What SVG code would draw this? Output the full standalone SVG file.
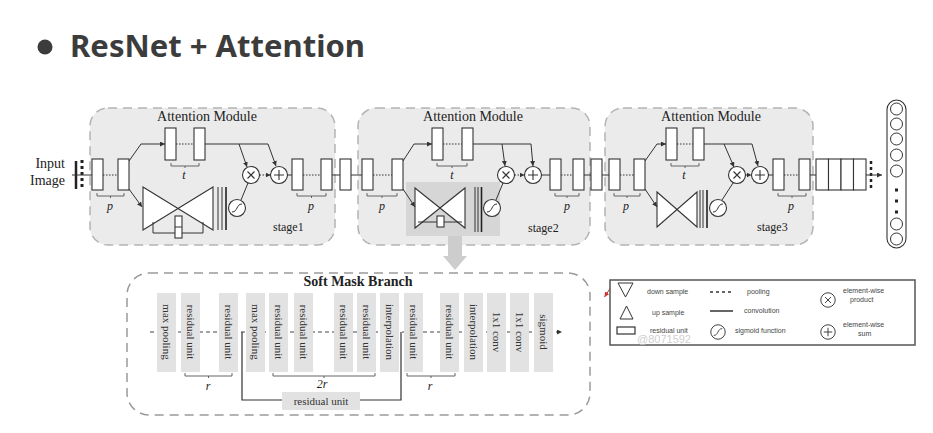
<svg xmlns="http://www.w3.org/2000/svg" width="933" height="433" viewBox="0 0 933 433">
<defs>
<style>
.mod{fill:#ebebeb;stroke:#b4b4b4;stroke-width:1.5;stroke-dasharray:9 6}
.blk{fill:#fff;stroke:#333;stroke-width:1.1}
.ln{fill:none;stroke:#333;stroke-width:1}
.dl{fill:none;stroke:#333;stroke-width:1;stroke-dasharray:1.5 1.5}
.br{fill:none;stroke:#555;stroke-width:0.9}
.sf{font-family:"Liberation Serif","DejaVu Serif",serif;fill:#222}
.am{font-size:14px}
.it{font-style:italic;font-size:12px}
.st{font-size:12px}
.bar{fill:#e2e2e2}
.bt{font-family:"Liberation Serif","DejaVu Serif",serif;font-size:11px;fill:#333}
.lg{font-family:"Liberation Sans",Arial,sans-serif;font-size:7px;fill:#444}
.bow{fill:#fff;stroke:#333;stroke-width:1.1}
.thick{stroke:#222;stroke-width:1.6}
</style>
<marker id="ah" viewBox="0 0 6 6" refX="6" refY="3" markerWidth="5" markerHeight="5" orient="auto"><path d="M0,0 L6,3 L0,6 z" fill="#333"/></marker>
<marker id="ahr" viewBox="0 0 6 6" refX="6" refY="3" markerWidth="5" markerHeight="5" orient="auto"><path d="M0,0 L6,3 L0,6 z" fill="#c33"/></marker>
<g id="otimes"><circle r="8.5" fill="#fff" stroke="#333" stroke-width="1.1"/><path d="M-3.5,-3.5 L3.5,3.5 M-3.5,3.5 L3.5,-3.5" stroke="#333" stroke-width="1.1"/></g>
<g id="oplus"><circle r="8.5" fill="#fff" stroke="#333" stroke-width="1.1"/><path d="M-5,0 H5 M0,-5 V5" stroke="#333" stroke-width="1.1"/></g>
<g id="sig"><circle r="8.5" fill="#fff" stroke="#333" stroke-width="1.1"/><path d="M-5,4 C1,4 -1,-4 5,-4" fill="none" stroke="#333" stroke-width="1"/></g>
</defs>
<rect width="933" height="433" fill="#fff"/>

<g id="title">
<circle cx="45" cy="47" r="7.5" fill="#3c3c3c"/>
<text x="70" y="57" font-family="'Noto Sans','Open Sans',sans-serif" font-weight="bold" font-size="30" fill="#3c3c3c" textLength="295" lengthAdjust="spacingAndGlyphs">ResNet + Attention</text>
</g>

<g id="module1">
<rect class="mod" x="90" y="108" width="245" height="137" rx="18"/>
<text class="sf am" x="207" y="121" text-anchor="middle">Attention Module</text>
<rect class="blk" x="92" y="159" width="11" height="31"/>
<rect class="blk" x="118" y="159" width="11" height="31"/>
<rect class="blk" x="165" y="128" width="11" height="32"/>
<rect class="blk" x="194" y="128" width="11" height="32"/>
<polygon class="bow" points="143,187 213,230 213,187 143,230"/>
<path class="ln" d="M153,222 V233 H203 V222"/>
<rect class="blk" x="175" y="216" width="7" height="22"/>
<path class="ln" d="M175,227 H182"/>
<path class="ln" d="M218,187 V230 M222,187 V230"/><path class="thick" d="M226,187 V230"/>
<use href="#sig" x="237" y="208"/>
<use href="#otimes" x="251" y="175"/>
<use href="#oplus" x="279" y="175"/>
<rect class="blk" x="292" y="159" width="11" height="31"/>
<rect class="blk" x="321" y="159" width="11" height="31"/>
<text class="sf st" x="273" y="231">stage1</text>
<path class="br" d="M97,193 V196 H124 V193 M110.5,196 V198"/>
<text class="sf it" x="110" y="210" text-anchor="middle">p</text>
<path class="br" d="M171,163 V166 H199 V163 M185,166 V168"/>
<text class="sf it" x="184" y="179" text-anchor="middle">t</text>
<path class="br" d="M297,193 V196 H326 V193 M311.5,196 V198"/>
<text class="sf it" x="311" y="210" text-anchor="middle">p</text>
</g>

<g id="module2">
<rect class="mod" x="358" y="108" width="232" height="137" rx="18"/>
<rect x="406" y="182" width="94" height="54" fill="#d6d6d6"/>
<path d="M448,236 H462 V256 H467 L455,270 L443,256 H448 Z" fill="#cdcdcd"/>
<text class="sf am" x="473" y="121" text-anchor="middle">Attention Module</text>
<rect class="blk" x="362" y="159" width="11" height="31"/>
<rect class="blk" x="392" y="159" width="11" height="31"/>
<rect class="blk" x="432" y="128" width="11" height="32"/>
<rect class="blk" x="462" y="128" width="11" height="32"/>
<polygon class="bow" points="415,188 465,228 465,188 415,228"/>
<path class="ln" d="M418,222 H462"/>
<rect class="blk" x="437" y="216" width="7" height="11"/>
<path class="ln" d="M475,187 V232 M478,187 V232"/><path class="thick" d="M481.5,187 V232"/>
<use href="#sig" x="492" y="208"/>
<use href="#otimes" x="506" y="175"/>
<use href="#oplus" x="533" y="175"/>
<rect class="blk" x="550" y="159" width="11" height="31"/>
<rect class="blk" x="573" y="159" width="11" height="31"/>
<text class="sf st" x="528" y="232">stage2</text>
<path class="br" d="M367,193 V196 H397 V193 M382,196 V198"/>
<text class="sf it" x="382" y="210" text-anchor="middle">p</text>
<path class="br" d="M437,163 V166 H467 V163 M452,166 V168"/>
<text class="sf it" x="452" y="179" text-anchor="middle">t</text>
<path class="br" d="M555,193 V196 H579 V193 M567,196 V198"/>
<text class="sf it" x="567" y="210" text-anchor="middle">p</text>
</g>

<g id="module3">
<rect class="mod" x="605" y="108" width="208" height="137" rx="18"/>
<text class="sf am" x="711" y="121" text-anchor="middle">Attention Module</text>
<rect class="blk" x="609" y="159" width="11" height="31"/>
<rect class="blk" x="634" y="159" width="11" height="31"/>
<rect class="blk" x="666" y="128" width="11" height="32"/>
<rect class="blk" x="693" y="128" width="11" height="32"/>
<polygon class="bow" points="657,192 697,227 697,192 657,227"/>
<path class="ln" d="M700,190 V228 M703,190 V228"/><path class="thick" d="M707,190 V228"/>
<use href="#sig" x="718" y="208"/>
<use href="#otimes" x="737" y="175"/>
<use href="#oplus" x="760" y="175"/>
<rect class="blk" x="773" y="159" width="11" height="31"/>
<rect class="blk" x="799" y="159" width="11" height="31"/>
<text class="sf st" x="757" y="231">stage3</text>
<path class="br" d="M614,193 V196 H640 V193 M627,196 V198"/>
<text class="sf it" x="626" y="210" text-anchor="middle">p</text>
<path class="br" d="M671,163 V166 H699 V163 M685,166 V168"/>
<text class="sf it" x="684" y="179" text-anchor="middle">t</text>
<path class="br" d="M778,193 V196 H806 V193 M792,196 V198"/>
<text class="sf it" x="791" y="210" text-anchor="middle">p</text>
</g>

<g id="input">
<text class="sf" font-size="14" x="65" y="168" text-anchor="end">Input</text>
<text class="sf" font-size="14" x="65" y="185" text-anchor="end">Image</text>
<path d="M76,161 V189" stroke="#222" stroke-width="2.5"/>
<path d="M82,160 V190" stroke="#222" stroke-width="3" stroke-dasharray="3 3"/>
</g>

<g id="between">
<rect class="blk" x="340" y="159" width="11" height="31"/>
<rect class="blk" x="591" y="159" width="11" height="31"/>
<rect class="blk" x="816" y="159" width="12.5" height="31"/>
<rect class="blk" x="828.5" y="159" width="12.5" height="31"/>
<rect class="blk" x="841" y="159" width="12.5" height="31"/>
<rect class="blk" x="853.5" y="159" width="12.5" height="31"/>
<path d="M871,161 V190" stroke="#222" stroke-width="2.5" stroke-dasharray="3 3"/>
</g>

<g id="output">
<rect x="887" y="100" width="19" height="148" rx="9.5" fill="#fff" stroke="#333" stroke-width="1.1"/>
<g fill="#fff" stroke="#333" stroke-width="1">
<circle cx="896.5" cy="109" r="6"/><circle cx="896.5" cy="124" r="6"/><circle cx="896.5" cy="139" r="6"/><circle cx="896.5" cy="155" r="6"/><circle cx="896.5" cy="171" r="6"/><circle cx="896.5" cy="224" r="6"/><circle cx="896.5" cy="239" r="6"/>
</g>
<g fill="#222"><rect x="895" y="188.5" width="3" height="3"/><rect x="895" y="199.5" width="3" height="3"/><rect x="895" y="210.5" width="3" height="3"/></g>
</g>

<g id="connectors">
<path class="ln" d="M72,175 H92"/>
<path class="dl" d="M103,175 H118"/>
<path class="ln" d="M129,161 L141,144 H165" marker-end="url(#ah)"/>
<path class="dl" d="M176,144 H194"/>
<path class="ln" d="M205,144 H268 L276,166" marker-end="url(#ah)"/>
<path class="ln" d="M239,144 L247,167" marker-end="url(#ah)"/>
<path class="ln" d="M129,189 L142,207" marker-end="url(#ah)"/>
<path class="ln" d="M241,200 L248,183"/>
<path class="dl" d="M259.5,175 H270.5" marker-end="url(#ah)"/>
<path class="ln" d="M287.5,175 H292"/>
<path class="dl" d="M303,175 H321"/>
<path class="ln" d="M332,175 H340 M351,175 H362"/>
<path class="dl" d="M373,175 H392"/>
<path class="ln" d="M403,161 L414,144 H432" marker-end="url(#ah)"/>
<path class="dl" d="M443,144 H462"/>
<path class="ln" d="M473,144 H531 L533,166" marker-end="url(#ah)"/>
<path class="ln" d="M502,144 L505,166" marker-end="url(#ah)"/>
<path class="ln" d="M403,189 L415,207" marker-end="url(#ah)"/>
<path class="ln" d="M496,200 L503,183"/>
<path class="dl" d="M514.5,175 H524.5" marker-end="url(#ah)"/>
<path class="ln" d="M541.5,175 H550"/>
<path class="dl" d="M561,175 H573"/>
<path class="ln" d="M584,175 H591 M602,175 H609"/>
<path class="dl" d="M620,175 H634"/>
<path class="ln" d="M645,161 L657,144 H666" marker-end="url(#ah)"/>
<path class="dl" d="M677,144 H693"/>
<path class="ln" d="M704,144 H752 L758,166" marker-end="url(#ah)"/>
<path class="ln" d="M724,144 L734,167" marker-end="url(#ah)"/>
<path class="ln" d="M645,189 L657,207" marker-end="url(#ah)"/>
<path class="ln" d="M722,200 L733,183"/>
<path class="dl" d="M745.5,175 H751.5" marker-end="url(#ah)"/>
<path class="ln" d="M768.5,175 H773"/>
<path class="dl" d="M784,175 H799"/>
<path class="ln" d="M810,175 H816"/>
<path class="ln" d="M866,175 H882" marker-end="url(#ah)"/>
</g>

<g id="softmask">
<rect x="127" y="273" width="463" height="142" rx="22" fill="none" stroke="#9a9a9a" stroke-width="1.5" stroke-dasharray="9 6"/>
<text class="sf" x="358" y="286" text-anchor="middle" font-size="14" font-weight="bold">Soft Mask Branch</text>
<path d="M150,332 H562" fill="none" stroke="#444" stroke-width="1" stroke-dasharray="4 3" marker-end="url(#ah)"/>
<g class="bar">
<rect x="157" y="293" width="19" height="79"/><rect x="181" y="293" width="19" height="79"/><rect x="219" y="293" width="19" height="79"/><rect x="246" y="293" width="19" height="79"/><rect x="269" y="293" width="19" height="79"/><rect x="294" y="293" width="19" height="79"/><rect x="334" y="293" width="19" height="79"/><rect x="357" y="293" width="19" height="79"/><rect x="380" y="293" width="19" height="79"/><rect x="404" y="293" width="19" height="79"/><rect x="440" y="293" width="19" height="79"/><rect x="464" y="293" width="19" height="79"/><rect x="487" y="293" width="19" height="79"/><rect x="510" y="293" width="19" height="79"/><rect x="534" y="293" width="19" height="79"/>
</g>
<g class="bt" text-anchor="middle">
<text transform="translate(166.5,332) rotate(90)" dy="0.35em">max pooling</text>
<text transform="translate(190.5,332) rotate(90)" dy="0.35em">residual unit</text>
<text transform="translate(228.5,332) rotate(90)" dy="0.35em">residual unit</text>
<text transform="translate(255.5,332) rotate(90)" dy="0.35em">max pooling</text>
<text transform="translate(278.5,332) rotate(90)" dy="0.35em">residual unit</text>
<text transform="translate(303.5,332) rotate(90)" dy="0.35em">residual unit</text>
<text transform="translate(343.5,332) rotate(90)" dy="0.35em">residual unit</text>
<text transform="translate(366.5,332) rotate(90)" dy="0.35em">residual unit</text>
<text transform="translate(389.5,332) rotate(90)" dy="0.35em">interpolation</text>
<text transform="translate(413.5,332) rotate(90)" dy="0.35em">residual unit</text>
<text transform="translate(449.5,332) rotate(90)" dy="0.35em">residual unit</text>
<text transform="translate(473.5,332) rotate(90)" dy="0.35em">interpolation</text>
<text transform="translate(496.5,332) rotate(90)" dy="0.35em">1x1 conv</text>
<text transform="translate(519.5,332) rotate(90)" dy="0.35em">1x1 conv</text>
<text transform="translate(543.5,332) rotate(90)" dy="0.35em">sigmoid</text>
</g>
<path d="M242,332 V400 H282 M360,400 H401 V332" fill="none" stroke="#333" stroke-width="1.2"/>
<rect class="bar" x="282" y="392" width="78" height="18"/>
<text class="bt" x="321" y="405" text-anchor="middle">residual unit</text>
<path class="br" d="M185,373 V376 H232 V373 M208.5,376 V378"/>
<text class="sf it" x="208" y="390" text-anchor="middle">r</text>
<path class="br" d="M273,373 V376 H375 V373 M324,376 V378"/>
<text class="sf it" x="322" y="388" text-anchor="middle">2r</text>
<path class="br" d="M407,373 V376 H455 V373 M431,376 V378"/>
<text class="sf it" x="430" y="390" text-anchor="middle">r</text>
</g>

<g id="legend">
<path d="M611,287 L604.5,297" stroke="#c33" stroke-width="1" marker-end="url(#ahr)"/>
<rect x="610" y="280" width="305" height="65" fill="#fff" stroke="#555" stroke-width="1.5"/>
<polygon points="618,283 633,283 625.5,297" fill="#fff" stroke="#333" stroke-width="1"/>
<polygon points="626.5,306 620,319 633,319" fill="#fff" stroke="#333" stroke-width="1"/>
<rect x="617" y="327" width="18" height="7" fill="#fff" stroke="#333" stroke-width="1.2"/>
<text class="lg" x="647" y="294">down sample</text>
<text class="lg" x="652" y="315">up sample</text>
<text class="lg" x="650" y="333">residual unit</text>
<text x="637" y="343" font-family="'Liberation Sans',Arial,sans-serif" font-size="11" fill="#cfcfcf">@8071592</text>
<path d="M710,292 H733" stroke="#333" stroke-width="1.5" stroke-dasharray="3 3"/>
<text class="lg" x="747" y="294">pooling</text>
<path d="M710,311 H733" stroke="#333" stroke-width="1.5"/>
<text class="lg" x="744" y="313">convolution</text>
<use href="#sig" transform="translate(718,332) scale(0.85)"/>
<text class="lg" x="735" y="333">sigmoid function</text>
<use href="#otimes" transform="translate(828,300) scale(0.85)"/>
<text class="lg" x="843" y="293">element-wise</text>
<text class="lg" x="850" y="302">product</text>
<use href="#oplus" transform="translate(828,332) scale(0.85)"/>
<text class="lg" x="843" y="327">element-wise</text>
<text class="lg" x="858" y="336">sum</text>
</g>
</svg>
